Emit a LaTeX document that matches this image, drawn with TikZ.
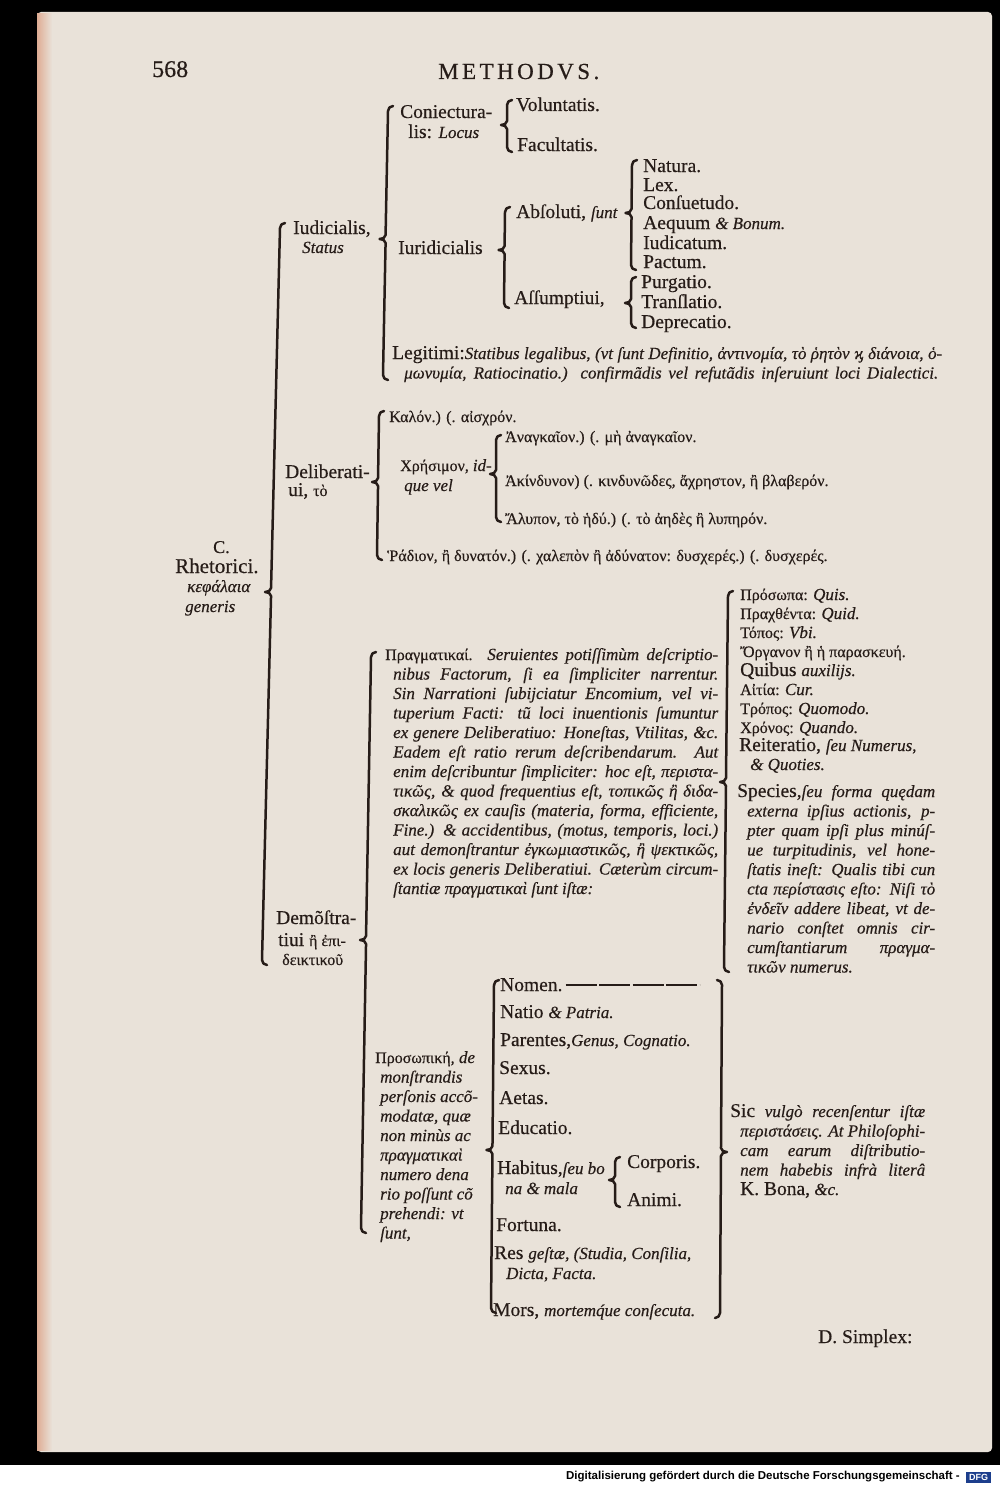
\documentclass[tikz,border=0pt]{standalone}
\usepackage{fontspec}
\setmainfont{Liberation Serif}[UprightFeatures={FakeBold=0.4},ItalicFeatures={FakeBold=0.4}]
\newfontfamily\footfont{Liberation Sans}

\definecolor{paper}{RGB}{233,226,217}
\definecolor{ink}{RGB}{38,28,24}
\definecolor{dfgblue}{RGB}{28,62,140}

% small italic and roman inserts
\newcommand{\sm}[1]{{\fontsize{17}{17}\selectfont\itshape #1}}
\newcommand{\rmn}[1]{{\fontsize{19.5}{20}\selectfont\upshape #1}}
\newcommand{\gkf}{\fontsize{16}{18}\selectfont\upshape}
\newcommand{\jl}[2]{\hbox to #1pt{#2}}
\newcommand{\pl}[1]{\hbox{#1}}

% brace: x top, y top, x bottom, y bottom, y of the point
\newcommand{\brak}[5]{%
  \pgfmathsetmacro{\bxc}{#1+(#3-#1)*(#5-#2)/(#4-#2)}
  \draw[brk] (#1+5,#2) to[out=180,in=90] (#1,#2+5) -- (\bxc,#5-4)
    to[out=-90,in=0] (\bxc-6,#5) to[out=0,in=90] (\bxc,#5+4)
    -- (#3,#4-5) to[out=-90,in=180] (#3+5,#4);}
\newcommand{\rbrak}[5]{%
  \pgfmathsetmacro{\bxc}{#1+(#3-#1)*(#5-#2)/(#4-#2)}
  \draw[brk] (#1-5,#2) to[out=0,in=90] (#1,#2+5) -- (\bxc,#5-4)
    to[out=-90,in=180] (\bxc+6,#5) to[out=180,in=90] (\bxc,#5+4)
    -- (#3,#4-5) to[out=-90,in=0] (#3-5,#4);}

\begin{document}
\begin{tikzpicture}[x=1pt, y=-1pt,
  every node/.style = {inner sep=0pt, anchor=base west, text=ink}]
    \tikzstyle{romn}=[font=\fontsize{19.5}{20}\selectfont]
    \tikzstyle{ital}=[font=\fontsize{17}{19.5}\selectfont\itshape]
    \tikzstyle{grk}=[font=\fontsize{16}{18}\selectfont]
    \tikzstyle{brk}=[draw=ink, line width=2.5pt, line cap=round, line join=round]
  \useasboundingbox (0,0) rectangle (1000,1485);
  % scan border and page
  \fill[black] (0,0) rectangle (1000,1485);
  \fill[paper, rounded corners=4pt] (37,12) rectangle (992,1452);
  \shade[left color=paper!85!red!70!brown, right color=paper] (37,14) rectangle (52,1450);
  \fill[white] (0,1465) rectangle (1000,1485);
  \node[font=\footfont\bfseries\fontsize{11.5}{12}\selectfont, anchor=east, text=black]
    (foot) at (960,1477) {Digitalisierung gefördert durch die Deutsche Forschungsgemeinschaft -};
  \node[font=\footfont\bfseries\fontsize{9}{9}\selectfont, anchor=west, fill=dfgblue,
    text=white, minimum width=25pt, minimum height=11pt] (dfg) at (966,1477) {DFG};

  % header
  \node[font=\fontsize{24}{24}\selectfont] (pag) at (152,77) {568};
  \node[font=\fontsize{23}{23}\selectfont\addfontfeature{LetterSpace=15}] (ttl) at (438,79) {METHODVS.};

  % C. Rhetorici
  \node[font=\fontsize{18}{18}\selectfont] (rc) at (213,553) {C.};
  \node[font=\fontsize{21}{21}\selectfont] (rh) at (175,573) {Rhetorici.};
  \node[ital] (rk) at (187,592) {κεφάλαια};
  \node[ital] (rg) at (185,612) {generis};
  \brak{280}{223}{262}{965}{592}

  % Iudicialis
  \node[romn] (iud) at (293,234) {Iudicialis,};
  \node[ital] (iudst) at (302,253) {Status};
  \brak{388}{106}{383}{380}{239}
  \node[romn] (conj) at (400,118) {Coniectura-};
  \node[romn] (conj2) at (408,138) {lis: \sm{Locus}};
  \brak{507}{100}{507}{152}{125}
  \node[romn] (volu) at (516,111) {Voluntatis.};
  \node[romn] (facu) at (517,151) {Facultatis.};
  \node[romn] (iuri) at (398,254) {Iuridicialis};
  \brak{505}{207}{504}{308}{250}
  \node[romn] (abso) at (516,218) {Abſoluti, \sm{ſunt}};
  \brak{632}{160}{631}{270}{213}
  \node[romn] (natu) at (643,172) {Natura.};
  \node[romn] (lex) at (643,191) {Lex.};
  \node[romn] (cons) at (643,209) {Conſuetudo.};
  \node[romn] (aequ) at (643,229) {Aequum \sm{\& Bonum.}};
  \node[romn] (iudi) at (643,249) {Iudicatum.};
  \node[romn] (pact) at (643,268) {Pactum.};
  \node[romn] (assu) at (514,304) {Aſſumptiui,};
  \brak{631}{277}{631}{328}{303}
  \node[romn] (purg) at (641,288) {Purgatio.};
  \node[romn] (tran) at (641,308) {Tranſlatio.};
  \node[romn] (depr) at (641,328) {Deprecatio.};
  \node[ital] (legi) at (392,359) {\vtop{%
    \jl{550}{\rmn{Legitimi:}Statibus legalibus, (vt ſunt Definitio, ἀντινομία, τὸ ῥητὸν ϗ διάνοια, ὁ-}
    \jl{546}{\hskip12pt μωνυμία, Ratiocinatio.) confirmãdis vel refutãdis inſeruiunt loci Dialectici.}}};

  % Deliberatiui
  \node[romn] (deli) at (285,478) {Deliberati-};
  \node[romn] (deli2) at (288,496) {ui, {\gkf τὸ}};
  \brak{379}{411}{377}{560}{482}
  \node[grk] (kalo) at (389,422) {Καλόν.) (. αἰσχρόν.};
  \node[grk] (chre) at (400,471) {Χρήσιμον, \sm{id-}};
  \node[ital] (chre2) at (404,491) {que vel};
  \brak{496}{435}{496}{522}{474}
  \node[grk] (anag) at (505,442) {Ἀναγκαῖον.) (. μὴ ἀναγκαῖον.};
  \node[grk] (akin) at (505,486) {Ἀκίνδυνον) (. κινδυνῶδες, ἄχρηστον, ἢ βλαβερόν.};
  \node[grk] (alup) at (505,524) {Ἄλυπον, τὸ ἡδύ.) (. τὸ ἀηδὲς ἢ λυπηρόν.};
  \node[grk] (radi) at (387,561) {Ῥάδιον, ἢ δυνατόν.) (. χαλεπὸν ἢ ἀδύνατον: δυσχερές.) (. δυσχερές.};

  % Demonstratiui
  \node[romn] (demo) at (276,924) {Demõſtra-};
  \node[romn] (demo2) at (278,946) {tiui {\gkf ἢ ἐπι-}};
  \node[grk] (demo3) at (282,965) {δεικτικοῦ};
  \brak{371}{652}{361}{1233}{940}
  \node[ital] (prag) at (385,660) {\vtop{%
    \jl{333}{{\gkf Πραγματικαί.} Seruientes potiſſimùm deſcriptio-}
    \jl{333}{\hskip8pt nibus Factorum, ſi ea ſimpliciter narrentur.}
    \jl{333}{\hskip8pt Sin Narrationi ſubijciatur Encomium, vel vi-}
    \jl{333}{\hskip8pt tuperium Facti: tũ loci inuentionis ſumuntur}
    \jl{333}{\hskip8pt ex genere Deliberatiuo: Honeſtas, Vtilitas, \&c.}
    \jl{333}{\hskip8pt Eadem eſt ratio rerum deſcribendarum. Aut}
    \jl{333}{\hskip8pt enim deſcribuntur ſimpliciter: hoc eſt, περιστα-}
    \jl{333}{\hskip8pt τικῶς, \& quod frequentius eſt, τοπικῶς ἢ διδα-}
    \jl{333}{\hskip8pt σκαλικῶς ex cauſis (materia, forma, efficiente,}
    \jl{333}{\hskip8pt Fine.) \& accidentibus, (motus, temporis, loci.)}
    \jl{333}{\hskip8pt aut demonſtrantur ἐγκωμιαστικῶς, ἢ ψεκτικῶς,}
    \jl{333}{\hskip8pt ex locis generis Deliberatiui. Cæterùm circum-}
    \pl{\hskip8pt ſtantiæ πραγματικαὶ ſunt iſtæ:}}};

  % circumstances
  \brak{728}{591}{724}{972}{782}
  \node[grk] (pros) at (740,600) {Πρόσωπα: \sm{Quis.}};
  \node[grk] (prax) at (740,619) {Πραχθέντα: \sm{Quid.}};
  \node[grk] (topo) at (740,638) {Τόπος: \sm{Vbi.}};
  \node[grk] (orga) at (740,657) {Ὄργανον ἢ ἡ παρασκευή.};
  \node[romn] (quib) at (740,676) {Quibus \sm{auxilijs.}};
  \node[grk] (aiti) at (740,695) {Αἰτία: \sm{Cur.}};
  \node[grk] (trop) at (740,714) {Τρόπος: \sm{Quomodo.}};
  \node[grk] (chro) at (740,733) {Χρόνος: \sm{Quando.}};
  \node[romn] (reit) at (739,751) {Reiteratio, \sm{ſeu Numerus,}};
  \node[ital] (quot) at (750,770) {\& Quoties.};
  \node[ital] (spec) at (737,797) {\vtop{%
    \jl{198}{\rmn{Species,}ſeu forma quędam}
    \jl{198}{\hskip10pt externa ipſius actionis, p-}
    \jl{198}{\hskip10pt pter quam ipſi plus minúſ-}
    \jl{198}{\hskip10pt ue turpitudinis, vel hone-}
    \jl{198}{\hskip10pt ſtatis ineſt: Qualis tibi cun}
    \jl{198}{\hskip10pt cta περίστασις eſto: Niſi τὸ}
    \jl{198}{\hskip10pt ἐνδεῖν addere libeat, vt de-}
    \jl{198}{\hskip10pt nario conſtet omnis cir-}
    \jl{198}{\hskip10pt cumſtantiarum πραγμα-}
    \pl{\hskip10pt τικῶν numerus.}}};

  % personae
  \node[ital] (pers) at (375,1063) {\vtop{%
    \pl{{\gkf Προσωπική,} de}
    \pl{\hskip5pt monſtrandis}
    \pl{\hskip5pt perſonis accõ-}
    \pl{\hskip5pt modatæ, quæ}
    \pl{\hskip5pt non minùs ac}
    \pl{\hskip5pt πραγματικαὶ}
    \pl{\hskip5pt numero dena}
    \pl{\hskip5pt rio poſſunt cõ}
    \pl{\hskip5pt prehendi: vt}
    \pl{\hskip5pt ſunt,}}};
  \brak{494}{980}{491}{1313}{1150}
  \node[romn] (nomen) at (500,991) {Nomen.};
  \draw[ink, line width=1.6pt, dash pattern=on 31pt off 2.5pt] ([xshift=3pt]nomen.east) -- ++(134,0);
  \node[romn] (natio) at (500,1018) {Natio \sm{\& Patria.}};
  \node[romn] (pare) at (500,1046) {Parentes,\sm{Genus, Cognatio.}};
  \node[romn] (sexu) at (499,1074) {Sexus.};
  \node[romn] (aeta) at (499,1104) {Aetas.};
  \node[romn] (educ) at (498,1134) {Educatio.};
  \node[romn] (habi) at (497,1174) {Habitus,\sm{ſeu bo}};
  \node[ital] (habi2) at (505,1194) {na \& mala};
  \brak{615}{1157}{615}{1207}{1180}
  \node[romn] (corp) at (627,1168) {Corporis.};
  \node[romn] (anim) at (627,1206) {Animi.};
  \node[romn] (fort) at (496,1231) {Fortuna.};
  \node[romn] (resg) at (494,1259) {Res \sm{geſtæ, (Studia, Conſilia,}};
  \node[ital] (resg2) at (506,1279) {Dicta, Facta.};
  \node[romn] (mors) at (493,1316) {Mors, \sm{mortemq́ue conſecuta.}};
  \rbrak{722}{980}{720}{1318}{1152}
  \node[ital] (sic) at (730,1117) {\vtop{%
    \jl{195}{\rmn{Sic} vulgò recenſentur iſtæ}
    \jl{195}{\hskip10pt περιστάσεις. At Philoſophi-}
    \jl{195}{\hskip10pt cam earum diſtributio-}
    \jl{195}{\hskip10pt nem habebis infrà literâ}
    \pl{\hskip10pt\rmn{K. Bona,} \&c.}}};

  \node[romn] (simp) at (818,1343) {D. Simplex:};
\end{tikzpicture}
\end{document}
